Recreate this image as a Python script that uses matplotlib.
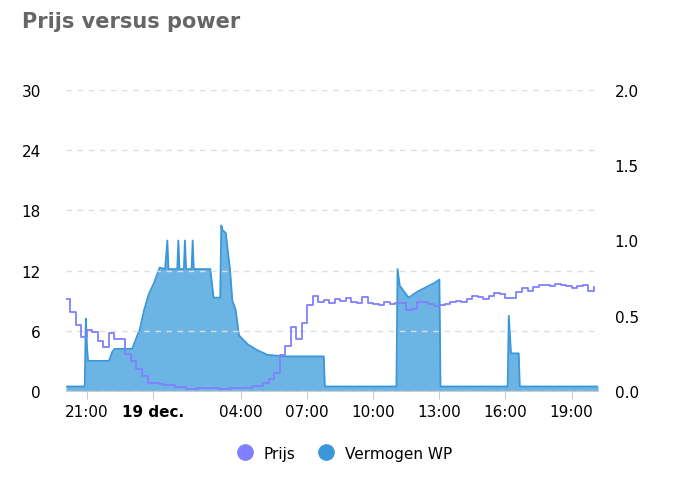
import matplotlib.pyplot as plt

# tijd in uren t.o.v. 19 dec 00:00
prijs_t = [-3.95, -3.75, -3.5, -3.25, -3.0, -2.75, -2.5, -2.25, -2.0, -1.75, -1.5, -1.25, -1.0, -0.75, -0.5,
           -0.25, 0.0, 0.25, 0.5, 1.0, 1.5, 2.0, 2.5, 3.0, 3.5, 4.0, 4.5, 5.0, 5.25, 5.5, 5.75, 6.0, 6.25,
           6.5, 6.75, 7.0, 7.25, 7.5, 7.75, 8.0, 8.25, 8.5, 8.75, 9.0, 9.25, 9.5, 9.75, 10.0, 10.25, 10.5,
           10.75, 11.0, 11.25, 11.5, 11.75, 12.0, 12.25, 12.5, 12.75, 13.0, 13.25, 13.5, 13.75, 14.0, 14.25,
           14.5, 14.75, 15.0, 15.25, 15.5, 15.75, 16.0, 16.25, 16.5, 16.75, 17.0, 17.25, 17.5, 17.75, 18.0,
           18.25, 18.5, 18.75, 19.0, 19.25, 19.5, 19.75, 20.0]
prijs = [9.2, 7.9, 6.6, 5.4, 6.1, 5.9, 5.0, 4.4, 5.8, 5.2, 5.2, 3.7, 3.0, 2.2, 1.5,
         0.8, 0.8, 0.7, 0.6, 0.4, 0.2, 0.3, 0.3, 0.2, 0.3, 0.3, 0.5, 0.8, 1.2, 1.8, 3.6, 4.5, 6.4,
         5.2, 6.8, 8.6, 9.5, 8.9, 9.1, 8.8, 9.2, 9.0, 9.3, 8.9, 8.8, 9.4, 8.8, 8.7, 8.6, 8.9,
         8.7, 8.8, 8.8, 8.1, 8.2, 8.9, 8.9, 8.7, 8.5, 8.6, 8.7, 8.9, 9.0, 8.9, 9.2,
         9.5, 9.4, 9.2, 9.5, 9.8, 9.7, 9.3, 9.3, 9.9, 10.3, 10.0, 10.4, 10.6, 10.6, 10.5,
         10.7, 10.6, 10.5, 10.3, 10.5, 10.6, 10.0, 10.4]

power_t = [-3.95, -3.1, -3.05, -3.0, -2.95, -2.0, -1.85, -1.75, -0.95, -0.6, -0.4, -0.2, 0.05, 0.3, 0.55,
           0.65, 0.7, 0.75, 1.1, 1.15, 1.2, 1.4, 1.45, 1.5, 1.75, 1.8, 1.85, 2.6, 2.75, 3.05, 3.1, 3.15,
           3.3, 3.5, 3.6, 3.75, 3.9, 4.3, 4.75, 5.2, 6.0, 7.75, 7.8, 11.05, 11.1, 11.2, 11.6, 12.0, 12.8,
           13.0, 13.05, 16.1, 16.15, 16.25, 16.6, 16.65, 20.2]
vermogen = [0.03, 0.03, 0.48, 0.3, 0.2, 0.2, 0.26, 0.28, 0.28, 0.41, 0.54, 0.64, 0.72, 0.82, 0.81,
            1.0, 0.81, 0.81, 0.81, 1.0, 0.81, 0.81, 1.0, 0.81, 0.81, 1.0, 0.81, 0.81, 0.62, 0.62, 1.1, 1.07,
            1.05, 0.8, 0.6, 0.54, 0.37, 0.31, 0.27, 0.24, 0.23, 0.23, 0.03, 0.03, 0.81, 0.7, 0.62, 0.66, 0.72,
            0.74, 0.03, 0.03, 0.5, 0.25, 0.25, 0.03, 0.03]

tick_pos = [-3, 0, 4, 7, 10, 13, 16, 19]
tick_lbl = ["21:00", "19 dec.", "04:00", "07:00", "10:00", "13:00", "16:00", "19:00"]

fig = plt.figure(figsize=(6.82, 4.81), dpi=100)
ax = fig.add_axes([66 / 682, 89 / 481, 532 / 682, 301 / 481])
ax2 = ax.twinx()

ax2.fill_between(power_t, vermogen, color="#6cb4e4", lw=0)
ax2.plot(power_t, vermogen, color="#3a97d9", lw=1.3)
ax.plot(prijs_t, prijs, color="#8080ff", lw=1.3, drawstyle="steps-post", zorder=5)
ax.set_zorder(ax2.get_zorder() + 1)
ax.patch.set_visible(False)

ax.set_xlim(-3.95, 20.2)
ax.set_ylim(0, 30)
ax2.set_ylim(0, 2.0)
ax.set_yticks([0, 6, 12, 18, 24, 30])
ax2.set_yticks([0, 0.5, 1.0, 1.5, 2.0])
ax2.set_yticklabels(["0.0", "0.5", "1.0", "1.5", "2.0"])
ax.set_xticks(tick_pos)
ax.set_xticklabels(tick_lbl)
ax.get_xticklabels()[1].set_fontweight("bold")
ax.grid(axis="y", ls=(0, (4, 4)), color="#dddddd", lw=1)
for a in (ax, ax2):
    for s in a.spines.values():
        s.set_visible(False)
    a.tick_params(axis="y", length=0, labelsize=11, pad=12)
ax.spines["bottom"].set_visible(True)
ax.spines["bottom"].set_color("#cccccc")
ax.tick_params(axis="x", length=6, color="#cccccc", labelsize=11)
ax.tick_params(axis="y", pad=18)

fig.text(22 / 682, 1 - 22 / 481, "Prijs versus power", fontsize=15, fontweight="bold",
         color="#666666", va="center")
h1 = plt.Line2D([], [], marker="o", ls="", color="#8080ff", markersize=11)
h2 = plt.Line2D([], [], marker="o", ls="", color="#3a97d9", markersize=11)
fig.legend([h1, h2], ["Prijs", "Vermogen WP"], loc="center", bbox_to_anchor=(0.5, 1 - 454 / 481),
           ncol=2, frameon=False, fontsize=11, handletextpad=0.2, columnspacing=1.0)
fig.savefig("out.png")
